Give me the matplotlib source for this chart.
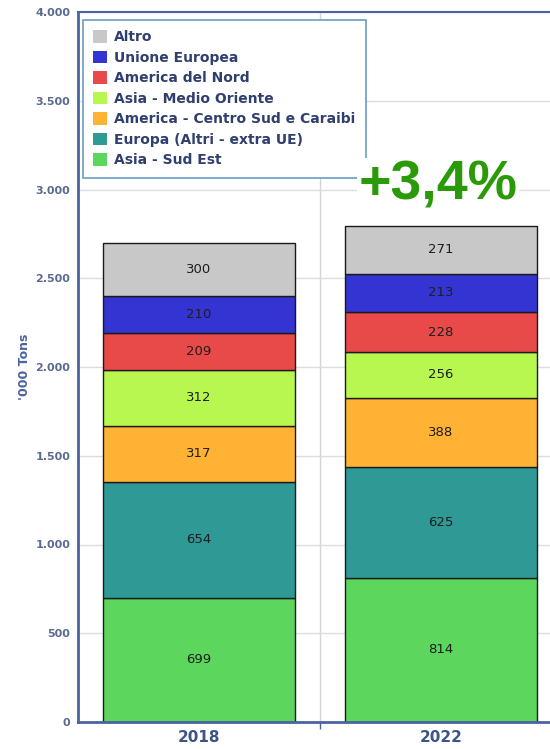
import numpy as np
import matplotlib.pyplot as plt
from matplotlib.ticker import FuncFormatter

# dati (migliaia di tonnellate)
anni = ['2018', '2022']
aree = ['Asia - Sud Est', 'Europa (Altri - extra UE)', 'America - Centro Sud e Caraibi',
        'Asia - Medio Oriente', 'America del Nord', 'Unione Europea', 'Altro']
asia_sud_est = [699, 814]
europa_altri = [654, 625]
america_cs = [317, 388]
asia_mo = [312, 256]
america_nord = [209, 228]
unione_europea = [210, 213]
altro = [300, 271]
serie = [asia_sud_est, europa_altri, america_cs, asia_mo, america_nord, unione_europea, altro]
colori = ['#5cd65c', '#2e9995', '#ffb233', '#b8f74f', '#e84949', '#3434d2', '#c8c8c8']
variazione = '+3,4%'

fig = plt.figure(figsize=(5.5, 7.49), dpi=100)
ax = fig.add_axes([78 / 550, 27 / 749, 472 / 550, 710 / 749])

x = np.arange(len(anni))
base = np.zeros(len(anni))
for vals, col, nome in zip(serie, colori, aree):
    ax.bar(x, vals, width=0.79, bottom=base, color=col, edgecolor='#1a1a1a',
           linewidth=1.0, label=nome, zorder=2)
    for xi, b, v in zip(x, base, vals):
        ax.text(xi, b + v / 2, str(v), ha='center', va='center', fontsize=9.5,
                color='#1e1e1e', zorder=3)
    base = base + np.array(vals)

ax.set_xlim(-0.5, 1.45)
ax.set_ylim(0, 4000)
ax.set_yticks(np.arange(0, 4001, 500))
ax.yaxis.set_major_formatter(FuncFormatter(lambda v, p: f'{int(v):,}'.replace(',', '.')))
ax.set_xticks(x)
ax.set_xticklabels(anni)
ax.set_xticks([0.5], minor=True)
ax.tick_params(axis='x', which='major', length=0, pad=6, labelsize=11, labelcolor='#3d5585')
ax.tick_params(axis='x', which='minor', length=5, color='#4a64a0', width=1)
ax.tick_params(axis='y', length=0, pad=5.5, labelsize=8, labelcolor='#5a6a90')
for lab in ax.get_xticklabels() + ax.get_yticklabels():
    lab.set_fontweight('bold')

ax.set_ylabel("'000 Tons", fontsize=9, fontweight='bold', color='#4a64a0', labelpad=3)

ax.grid(axis='y', color='#dddddd', linewidth=1, zorder=0)
ax.set_axisbelow(True)
ax.axvline(0.5, color='#d4d4d4', linewidth=1, zorder=0)

for s in ['left', 'bottom']:
    ax.spines[s].set_color('#4a64a0')
    ax.spines[s].set_linewidth(2)
ax.spines['top'].set_color('#4a64a0')
ax.spines['top'].set_linewidth(1.5)
ax.spines['right'].set_visible(False)

h, l = ax.get_legend_handles_labels()
leg = ax.legend(h[::-1], l[::-1], loc='upper left', bbox_to_anchor=(0.01, 0.989),
                frameon=True, fancybox=False, fontsize=10, handlelength=1.0,
                handleheight=1.0, handletextpad=0.5, labelspacing=0.47,
                borderpad=0.75, borderaxespad=0)
leg.get_frame().set_edgecolor('#6b9cc4')
leg.get_frame().set_linewidth(1.2)
leg.get_frame().set_alpha(1)
for t in leg.get_texts():
    t.set_fontweight('bold')
    t.set_color('#2f3f6e')
for p in leg.get_patches():
    p.set_edgecolor('none')

fig.text(438 / 550, 1 - 186 / 749, variazione, family=['Liberation Sans', 'DejaVu Sans'],
         fontsize=40, fontweight='bold', color='#2a9a08', ha='center', va='center',
         bbox=dict(facecolor='white', edgecolor='none', pad=1))

fig.savefig('out.png', dpi=100)
